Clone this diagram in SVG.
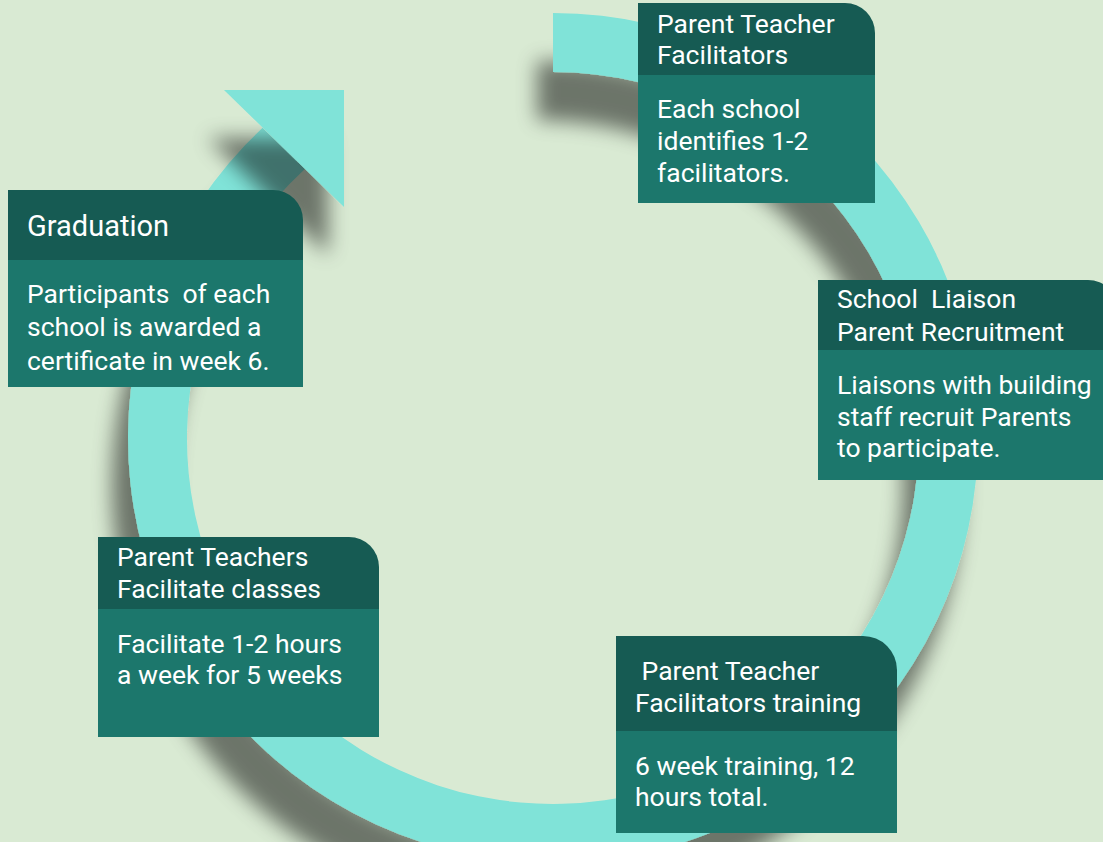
<svg xmlns="http://www.w3.org/2000/svg" width="1103" height="842" viewBox="0 0 1103 842">
<defs>
<filter id="sh" filterUnits="userSpaceOnUse" x="-100" y="-100" width="1303" height="1042">
<feGaussianBlur in="SourceAlpha" stdDeviation="10"/>
<feOffset dx="-16" dy="48" result="o"/>
<feFlood flood-color="#000" flood-opacity="0.5"/>
<feComposite in2="o" operator="in"/>
<feMerge><feMergeNode/><feMergeNode in="SourceGraphic"/></feMerge>
</filter>
</defs>
<style>
.hd{fill:#165b53}
.bd{fill:#1c776c}
.ring{fill:#80e3d8}
text{font-family:Roboto,"Liberation Sans",sans-serif;fill:#ffffff;font-size:26.5px;white-space:pre}
.big{font-size:29px}
</style>
<rect width="1103" height="842" fill="#d9ead3"/>
<g id="connectors">
<path class="ring" filter="url(#sh)" d="M553,13 A425,425 0 1 1 262.6,127.7 L304.9,168.9 A366,366 0 1 0 553,72 Z"/>
<polygon class="ring" filter="url(#sh)" points="224,90 344,90 344,207"/>
</g>
<g id="node-facilitators">
<path class="hd" d="M638,3 H845 A30,30 0 0 1 875,33 V75 H638 Z"/>
<rect class="bd" x="638" y="75" width="237" height="128"/>
<text x="657" y="33.3">Parent Teacher</text>
<text x="657" y="64">Facilitators</text>
<text x="657" y="118.3">Each school</text>
<text x="657" y="150">identifies 1-2</text>
<text x="657" y="182.3">facilitators.</text>
</g>
<g id="node-liaison">
<path class="hd" d="M818,280 H1088 A30,30 0 0 1 1118,310 V350 H818 Z"/>
<rect class="bd" x="818" y="350" width="300" height="130"/>
<text x="837" y="308.3">School  Liaison</text>
<text x="837" y="340.7">Parent Recruitment</text>
<text x="837" y="394">Liaisons with building</text>
<text x="837" y="425.7">staff recruit Parents</text>
<text x="837" y="457.3">to participate.</text>
</g>
<g id="node-graduation">
<path class="hd" d="M8,190 H273 A30,30 0 0 1 303,220 V260 H8 Z"/>
<rect class="bd" x="8" y="260" width="295" height="127"/>
<text class="big" x="27" y="235.7">Graduation</text>
<text x="27" y="303.3">Participants  of each</text>
<text x="27" y="335.7">school is awarded a</text>
<text x="27" y="370">certificate in week 6.</text>
</g>
<g id="node-classes">
<path class="hd" d="M98,537 H349 A30,30 0 0 1 379,567 V609 H98 Z"/>
<rect class="bd" x="98" y="609" width="281" height="128"/>
<text x="117" y="566">Parent Teachers</text>
<text x="117" y="598.3">Facilitate classes</text>
<text x="117" y="652.7">Facilitate 1-2 hours</text>
<text x="117" y="684.3">a week for 5 weeks</text>
</g>
<g id="node-training">
<path class="hd" d="M616,636 H863 A34,34 0 0 1 897,670 V731 H616 Z"/>
<rect class="bd" x="616" y="731" width="281" height="102"/>
<text x="635" y="680"> Parent Teacher</text>
<text x="635" y="711.7">Facilitators training</text>
<text x="635" y="775">6 week training, 12</text>
<text x="635" y="806">hours total.</text>
</g>
</svg>
